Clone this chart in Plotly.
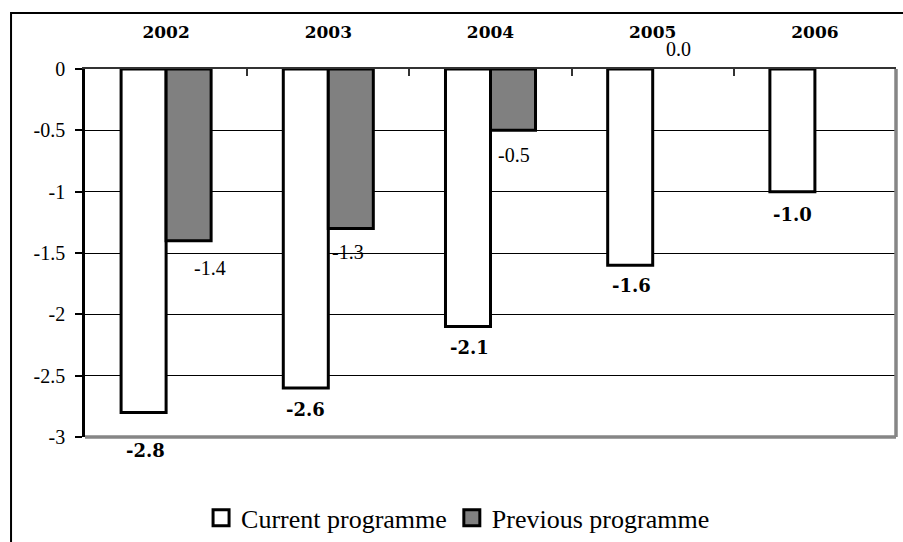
import plotly.graph_objects as go

years = ["2002", "2003", "2004", "2005", "2006"]
current = [-2.8, -2.6, -2.1, -1.6, -1.0]
previous = [-1.4, -1.3, -0.5, 0.0, None]
y_tick_vals = [0, -0.5, -1, -1.5, -2, -2.5, -3]
y_tick_text = ["0", "-0.5", "-1", "-1.5", "-2", "-2.5", "-3"]

BARGAP = 0.445
SERIF = "Liberation Serif, Times New Roman, serif"
BOLD_SERIF = "DejaVu Serif, serif"

def outline_widths(vals):
    return [0 if (v is None or v == 0) else 3 for v in vals]

fig = go.Figure()
fig.add_trace(go.Bar(
    x=years, y=current, name="Current programme", showlegend=False,
    marker=dict(color="white", line=dict(color="black", width=outline_widths(current))),
))
fig.add_trace(go.Bar(
    x=years, y=previous, name="Previous programme", showlegend=False,
    marker=dict(color="#808080", line=dict(color="black", width=outline_widths(previous))),
))
# legend entries
fig.add_trace(go.Scatter(
    x=[None], y=[None], mode="markers", name="Current programme",
    marker=dict(symbol="square", size=18, color="white", line=dict(color="black", width=3)),
))
fig.add_trace(go.Scatter(
    x=[None], y=[None], mode="markers", name="Previous programme",
    marker=dict(symbol="square", size=18, color="#808080", line=dict(color="black", width=3)),
))

half = (1 - BARGAP) / 4
# per-label pixel nudges (style only)
cur_nudge = {0: (2, -38), 1: (0, -22), 2: (2, -21), 3: (1, -20), 4: (0, -23)}
prev_nudge = {0: (21, -27), 1: (-3, -24), 2: (1, -25), 3: (3, 20)}

annotations = []
for i, v in enumerate(current):
    dx, dy = cur_nudge[i]
    annotations.append(dict(
        x=i - half, y=v, xref="x", yref="y", text=f"{v:.1f}", showarrow=False,
        xshift=dx, yshift=dy, xanchor="center", yanchor="middle",
        font=dict(family=BOLD_SERIF, size=18, color="black", weight="bold"),
    ))
for i, v in enumerate(previous):
    if v is None:
        continue
    dx, dy = prev_nudge[i]
    annotations.append(dict(
        x=i + half, y=v, xref="x", yref="y", text=f"{v:.1f}", showarrow=False,
        xshift=dx, yshift=dy, xanchor="center", yanchor="middle",
        font=dict(family=SERIF, size=20, color="black"),
    ))

fig.update_layout(
    width=903, height=542,
    margin=dict(l=85, r=7, t=69, b=105, autoexpand=False),
    paper_bgcolor="white", plot_bgcolor="white",
    barmode="group", bargap=BARGAP, bargroupgap=0,
    annotations=annotations,
    legend=dict(
        orientation="h", x=0.46, xanchor="center", y=-0.22, yanchor="middle",
        font=dict(family=SERIF, size=26, color="black"),
        bgcolor="rgba(0,0,0,0)",
    ),
    xaxis=dict(
        type="category", side="top", showline=True, linecolor="#333333", linewidth=2,
        ticks="inside", ticklen=7, tickcolor="#333333", tickwidth=1.5,
        tickson="boundaries", showgrid=False, zeroline=False,
        tickfont=dict(family=BOLD_SERIF, size=17, color="black", weight="bold"),
        ticklabelstandoff=22,
    ),
    yaxis=dict(
        range=[-3, 0], tickvals=y_tick_vals, ticktext=y_tick_text,
        showline=True, linecolor="black", linewidth=2.5,
        ticks="outside", ticklen=7, tickcolor="black", tickwidth=1.5,
        showgrid=True, gridcolor="black", gridwidth=1, zeroline=False,
        tickfont=dict(family=SERIF, size=20, color="black"),
        ticklabelstandoff=6,
    ),
    shapes=[
        dict(type="line", xref="x domain", yref="y domain", x0=0, x1=1, y0=0, y1=0,
             line=dict(color="#868686", width=3.5)),
        dict(type="line", xref="x domain", yref="y domain", x0=1, x1=1, y0=0, y1=1,
             line=dict(color="#868686", width=3.5)),
        dict(type="rect", xref="paper", yref="paper", x0=-0.0912, x1=1.02, y0=-0.31, y1=1.152,
             line=dict(color="black", width=2), fillcolor="rgba(0,0,0,0)", layer="above"),
    ],
)

fig.write_html("out.html")
